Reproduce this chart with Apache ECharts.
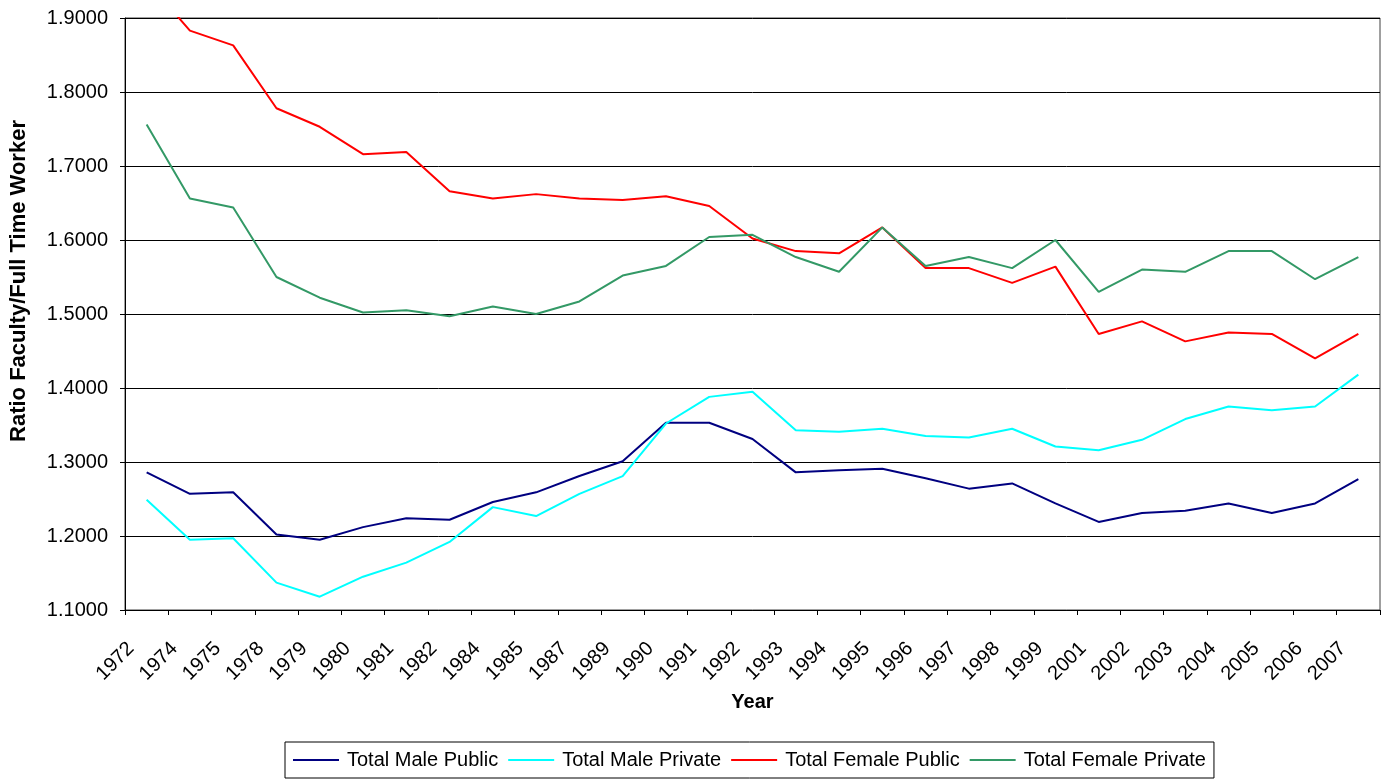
<!DOCTYPE html>
<html>
<head>
<meta charset="utf-8">
<script src="https://cdn.jsdelivr.net/npm/echarts@6/dist/echarts.min.js"></script>
<style>
html,body{margin:0;padding:0;background:#fff;}
#chart{width:1384px;height:781px;}
</style>
</head>
<body>
<div id="chart"></div>
<script>
var categories = ['1972','1974','1975','1978','1979','1980','1981','1982','1984','1985','1987','1989','1990','1991','1992','1993','1994','1995','1996','1997','1998','1999','2001','2002','2003','2004','2005','2006','2007'];
var malePublic = [1.286,1.257,1.259,1.202,1.195,1.212,1.224,1.222,1.246,1.259,1.281,1.301,1.353,1.353,1.331,1.286,1.289,1.291,1.278,1.264,1.271,1.244,1.219,1.231,1.234,1.244,1.231,1.244,1.277];
var malePrivate = [1.249,1.195,1.197,1.137,1.118,1.145,1.164,1.192,1.239,1.227,1.257,1.281,1.352,1.388,1.395,1.343,1.341,1.345,1.335,1.333,1.345,1.321,1.316,1.330,1.358,1.375,1.370,1.375,1.418];
var femalePublic = [1.950,1.883,1.863,1.778,1.753,1.716,1.719,1.666,1.656,1.662,1.656,1.654,1.659,1.646,1.602,1.585,1.582,1.617,1.562,1.562,1.542,1.564,1.473,1.490,1.463,1.475,1.473,1.440,1.473];
var femalePrivate = [1.756,1.656,1.644,1.550,1.522,1.502,1.505,1.497,1.510,1.500,1.517,1.552,1.565,1.604,1.607,1.577,1.557,1.617,1.565,1.577,1.562,1.600,1.530,1.560,1.557,1.585,1.585,1.547,1.577];
var seriesNames = ['Total Male Public','Total Male Private','Total Female Public','Total Female Private'];
var seriesColors = ['#000080','#00FFFF','#FF0000','#339966'];

var FONT = "Arial, 'Liberation Sans', sans-serif";
var chart = echarts.init(document.getElementById('chart'), null, {renderer:'canvas'});
var dataList = [malePublic, malePrivate, femalePublic, femalePrivate];
var series = dataList.map(function(d, i){
  return {
    name: seriesNames[i], type:'line', data:d, symbol:'none', clip:true,
    lineStyle:{color:seriesColors[i], width:2}, itemStyle:{color:seriesColors[i]},
    animation:false
  };
});
chart.setOption({
  animation:false,
  textStyle:{fontFamily:FONT},
  grid:{left:125, right:4, top:18, bottom:171, containLabel:false, outerBoundsMode:'none',
        show:true, borderColor:'#404040', borderWidth:1, backgroundColor:'transparent'},
  xAxis:{
    type:'category', data:categories, boundaryGap:true,
    name:'Year', nameLocation:'middle', nameGap:82,
    nameTextStyle:{fontFamily:FONT, fontWeight:'bold', fontSize:20, color:'#000'},
    axisLine:{lineStyle:{color:'#000', width:1}},
    axisTick:{show:true, length:5, lineStyle:{color:'#000'}, interval:0},
    axisLabel:{interval:0, rotate:45, fontFamily:FONT, fontSize:20, color:'#000', margin:20, padding:[0,22,0,0]},
    splitLine:{show:false}
  },
  yAxis:{
    type:'value', min:1.1, max:1.9, interval:0.1,
    name:'Ratio Faculty/Full Time Worker', nameLocation:'middle', nameGap:95, nameRotate:90,
    nameTextStyle:{fontFamily:FONT, fontWeight:'bold', fontSize:22, color:'#000', padding:[0,0,0,66]},
    axisLine:{show:true, lineStyle:{color:'#000', width:1}},
    axisTick:{show:true, length:5, lineStyle:{color:'#000'}},
    axisLabel:{fontFamily:FONT, fontSize:20, color:'#000', margin:17, formatter:function(v){return v.toFixed(4);}},
    splitLine:{show:true, lineStyle:{color:'#000', width:1}}
  },
  legend:{
    bottom:3, left:285, data:seriesNames,
    icon:'rect', itemWidth:46, itemHeight:2, itemGap:10,
    borderColor:'#000', borderWidth:1, padding:[8,8],
    textStyle:{fontFamily:FONT, fontSize:20, color:'#000', padding:[0,0,0,3]}
  },
  series:series
});
</script>
</body>
</html>
